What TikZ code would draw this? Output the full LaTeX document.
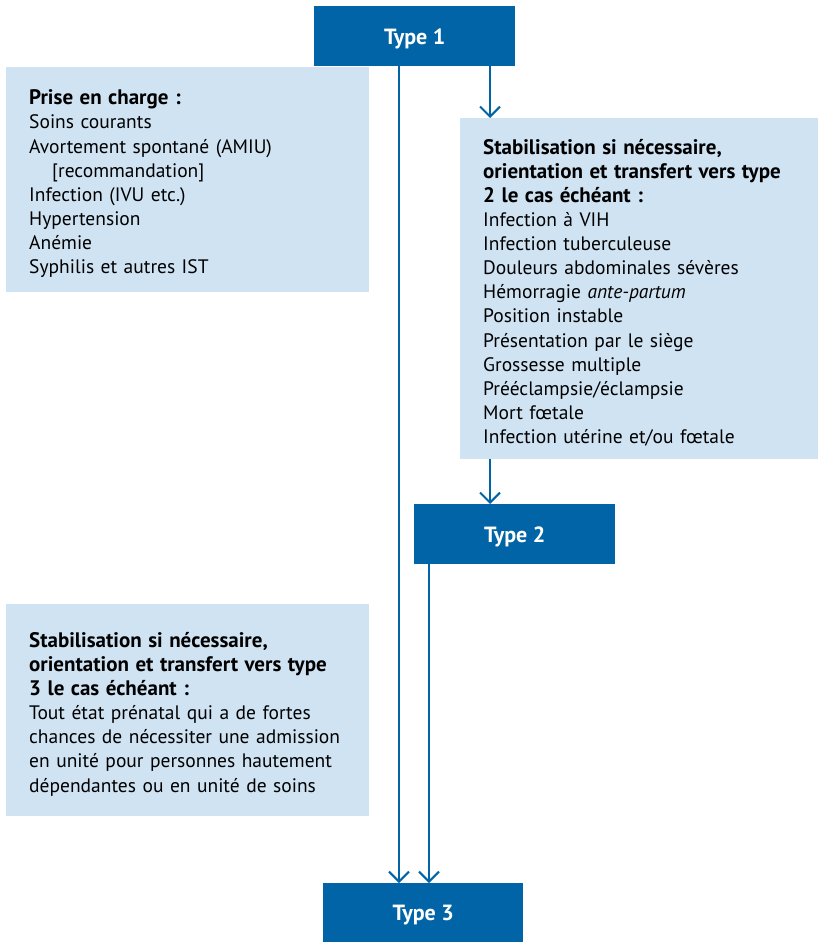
\documentclass[tikz,border=0pt]{standalone}
\usepackage{fontspec}
\setmainfont{PT Sans}
\usetikzlibrary{arrows.meta}
\definecolor{darkblue}{RGB}{0,100,166}
\definecolor{paleblue}{RGB}{208,227,243}
\newcommand{\headline}[1]{{\fontsize{21}{24}\selectfont\bfseries #1}}

\begin{document}
\begin{tikzpicture}[x=1pt,y=-1pt,
    typebox/.style={fill=darkblue, text=white, font=\fontsize{22}{24}\selectfont\bfseries,
      minimum width=201pt, minimum height=60pt, inner sep=0pt, text depth=0pt,
      anchor=north west},
    listbox/.style={fill=paleblue, anchor=north west, inner xsep=23pt, inner ysep=0pt,
      align=left, font=\fontsize{19.5}{24.1}\selectfont,
      execute at begin node={\lineskiplimit=-20pt\lineskip=0pt\rule{0pt}{23pt}}},
    link/.style={draw=darkblue, line width=2pt, -{Straight Barb[length=10pt,width=20pt]}}]
  \useasboundingbox (0,0) rectangle (818,942);

  % the three levels
  \node[typebox] (type1) at (314,6) {Type 1};
  \node[typebox] (type2) at (414,504) {Type 2};
  \node[typebox, minimum width=200pt, minimum height=59pt] (type3) at (323,883) {Type 3};

  % lists
  \node[listbox, text width=317pt, minimum height=225pt] (care) at (6,67)
    {\headline{Prise en charge :}\\
     Soins courants\\
     Avortement spontané (AMIU)\\
     \hspace*{23pt}[recommandation]\\
     Infection (IVU etc.)\\
     Hypertension\\
     Anémie\\
     Syphilis et autres IST};
  \node[listbox, text width=312pt, minimum height=341pt] (refer2) at (460,118)
    {\headline{Stabilisation si nécessaire,}\\
     \headline{orientation et transfert vers type}\\
     \headline{2 le cas échéant :}\\
     Infection à VIH\\
     Infection tuberculeuse\\
     Douleurs abdominales sévères\\
     Hémorragie \textit{ante-partum}\\
     Position instable\\
     Présentation par le siège\\
     Grossesse multiple\\
     Prééclampsie/éclampsie\\
     Mort fœtale\\
     Infection utérine et/ou fœtale};
  \node[listbox, text width=317pt, minimum height=212pt] (refer3) at (6,604)
    {\headline{Stabilisation si nécessaire,}\\
     \headline{orientation et transfert vers type}\\
     \headline{3 le cas échéant :}\\
     Tout état prénatal qui a de fortes\\
     chances de nécessiter une admission\\
     en unité pour personnes hautement\\
     dépendantes ou en unité de soins};

  % connectors
  \coordinate (colA) at (399,0);
  \coordinate (colB) at (429,0);
  \coordinate (colC) at (490,0);
  \draw[link] (colA |- type1.south) -- (colA |- type3.north);
  \draw[link] (colC |- type1.south) -- (colC |- refer2.north);
  \draw[link] (colC |- refer2.south) -- (colC |- type2.north);
  \draw[link] (colB |- type2.south) -- (colB |- type3.north);
\end{tikzpicture}
\end{document}
